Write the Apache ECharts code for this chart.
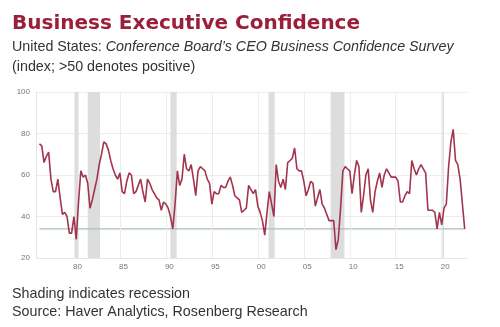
<!DOCTYPE html>
<html>
<head>
<meta charset="utf-8">
<script src="https://cdn.jsdelivr.net/npm/echarts@6/dist/echarts.min.js"></script>
<style>
  html, body { margin: 0; padding: 0; background: #fff; }
  #chart { width: 500px; height: 327px; }
</style>
</head>
<body>
<div id="chart"></div>
<script>
// CEO Business Confidence index, quarterly, starting 1976 Q2
const firstQuarter = 1976.25;
const confidence = [
  75, 74, 66,
  69, 71, 58, 52,
  52, 58, 49, 41,
  42, 40, 32, 32,
  40, 29, 47, 62,
  59, 60, 56, 44,
  48, 53, 58, 65,
  70, 76, 75, 72,
  67, 63, 60, 58,
  61, 52, 51, 57,
  61, 60, 51, 52,
  55, 58, 52, 47,
  58, 56, 53, 51,
  49, 48, 43, 47,
  46, 44, 40, 34,
  46, 62, 55, 58,
  70, 63, 62, 65,
  58, 50, 62, 64,
  63, 62, 58, 56,
  46, 52, 51, 51,
  55, 54, 54, 57,
  59, 55, 50, 49,
  48, 42, 43, 44,
  55, 53, 51, 53,
  45, 42, 38, 31,
  42, 52, 46, 40,
  65, 57, 54, 58,
  53, 66, 67, 68,
  73, 63, 62, 62,
  57, 50, 53, 57,
  56, 45, 49, 53,
  46, 44, 41, 38,
  38, 38, 24, 29,
  44, 62, 64, 63,
  62, 51, 60, 67,
  64, 42, 50, 60,
  63, 48, 42, 52,
  57, 61, 54, 60,
  63, 61, 59, 59,
  59, 57, 47, 47,
  50, 52, 51, 67,
  63, 60, 63, 65,
  63, 61, 43, 43,
  43, 42, 34, 42,
  36, 44, 46, 64,
  76, 82, 67, 65,
  58, 46, 34
];

// Reference level drawn across the whole series
const referenceLevel = 34;

// US recessions (start, end) in decimal years
const recessions = [
  [1980.0, 1980.5],
  [1981.5, 1982.83],
  [1990.5, 1991.17],
  [2001.17, 2001.83],
  [2007.92, 2009.42],
  [2020.08, 2020.25]
];

// Year ticks and their labels
const yearTicks = [1980, 1985, 1990, 1995, 2000, 2005, 2010, 2015, 2020];
const yearLabels = ['80', '85', '90', '95', '00', '05', '10', '15', '20'];

const points = confidence.map((v, i) => [firstQuarter + i * 0.25, v]);
const lastX = points[points.length - 1][0];

const sans = 'Liberation Sans, Arial, sans-serif';

const chart = echarts.init(document.getElementById('chart'), null, { renderer: 'canvas' });

chart.setOption({
  animation: false,
  backgroundColor: '#ffffff',
  title: [
    {
      text: 'Business Executive Confidence',
      left: 7, top: 9,
      textStyle: { fontFamily: 'DejaVu Sans, sans-serif', fontSize: 20, fontWeight: 'bold', color: '#9a1f3a' }
    },
    {
      text: '{n|United States: }{i|Conference Board\u2019s CEO Business Confidence Survey}\n{n|(index; >50 denotes positive)}',
      left: 7, top: 32,
      textStyle: {
        fontWeight: 'normal',
        lineHeight: 20,
        rich: {
          n: { fontFamily: sans, fontSize: 14.3, fontWeight: 'normal', color: '#333333', lineHeight: 20 },
          i: { fontFamily: sans, fontSize: 14.3, fontWeight: 'normal', fontStyle: 'italic', color: '#333333', lineHeight: 20 }
        }
      }
    },
    {
      text: 'Shading indicates recession\nSource: Haver Analytics, Rosenberg Research',
      left: 7, top: 280,
      textStyle: { fontFamily: sans, fontSize: 14.3, fontWeight: 'normal', color: '#333333', lineHeight: 18 }
    }
  ],
  grid: { left: 36, right: 33, top: 92, bottom: 69 },
  xAxis: {
    type: 'value',
    min: 1975.875,
    max: 2022.75,
    axisLine: { show: true, lineStyle: { color: '#e6e6e6' } },
    axisTick: { show: false },
    splitLine: { show: false },
    axisLabel: {
      customValues: yearTicks,
      formatter: v => yearLabels[yearTicks.indexOf(Math.round(v))] || '',
      fontFamily: sans,
      fontSize: 8,
      color: '#777777',
      margin: 5,
      padding: [0, 0, 0, 7]
    }
  },
  yAxis: {
    type: 'value',
    min: 20,
    max: 100,
    interval: 20,
    axisLine: { show: true, lineStyle: { color: '#e6e6e6' } },
    axisTick: { show: false },
    splitLine: { show: true, lineStyle: { color: '#ececec', width: 1 } },
    axisLabel: { fontFamily: sans, fontSize: 8, color: '#777777', margin: 6 }
  },
  series: [
    {
      // vertical year grid lines and recession shading
      type: 'line',
      data: [],
      silent: true,
      markLine: {
        silent: true,
        symbol: 'none',
        label: { show: false },
        lineStyle: { color: '#ececec', type: 'solid', width: 1 },
        data: yearTicks.map(y => ({ xAxis: y }))
      },
      markArea: {
        silent: true,
        itemStyle: { color: '#dddddd' },
        data: recessions.map(r => [{ xAxis: r[0] }, { xAxis: r[1] }])
      }
    },
    {
      type: 'line',
      data: [[firstQuarter, referenceLevel], [lastX, referenceLevel]],
      symbol: 'none',
      silent: true,
      lineStyle: { color: '#a9bdbf', width: 1.2 }
    },
    {
      type: 'line',
      data: points,
      symbol: 'none',
      lineStyle: { color: '#a3344f', width: 1.6 },
      z: 5
    }
  ]
});
</script>
</body>
</html>
